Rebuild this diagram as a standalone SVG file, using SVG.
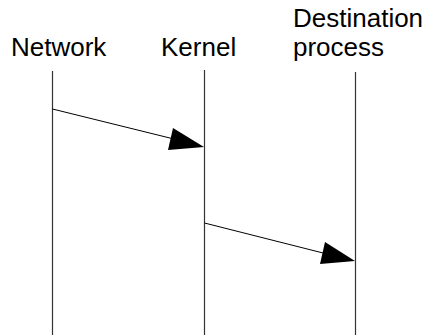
<svg xmlns="http://www.w3.org/2000/svg" width="428" height="335" viewBox="0 0 428 335">
  <style>
    .label { font-family: "Liberation Sans", Arial, sans-serif; font-size: 26px; fill: #000; }
    .life { stroke: #333; stroke-width: 1.2; fill: none; }
    .msg { stroke: #000; stroke-width: 1; fill: none; }
    .head { fill: #000; stroke: none; }
  </style>
  <rect width="428" height="335" fill="#fff"/>
  <g id="network">
    <text class="label" x="11" y="56">Network</text>
    <line class="life" x1="52.5" y1="71" x2="52.5" y2="335"/>
  </g>
  <g id="kernel">
    <text class="label" x="161" y="56">Kernel</text>
    <line class="life" x1="204.5" y1="70" x2="204.5" y2="335"/>
  </g>
  <g id="destination-process">
    <text class="label" x="293" y="27">Destination</text>
    <text class="label" x="293" y="56">process</text>
    <line class="life" x1="355.5" y1="72" x2="355.5" y2="335"/>
  </g>
  <g id="connectors">
    <line class="msg" x1="52.5" y1="109" x2="180" y2="140.5"/>
    <polygon class="head" points="204,147 173,128 168,150"/>
    <line class="msg" x1="204.5" y1="223" x2="331" y2="255"/>
    <polygon class="head" points="355,261 325,242 320,264"/>
  </g>
</svg>
